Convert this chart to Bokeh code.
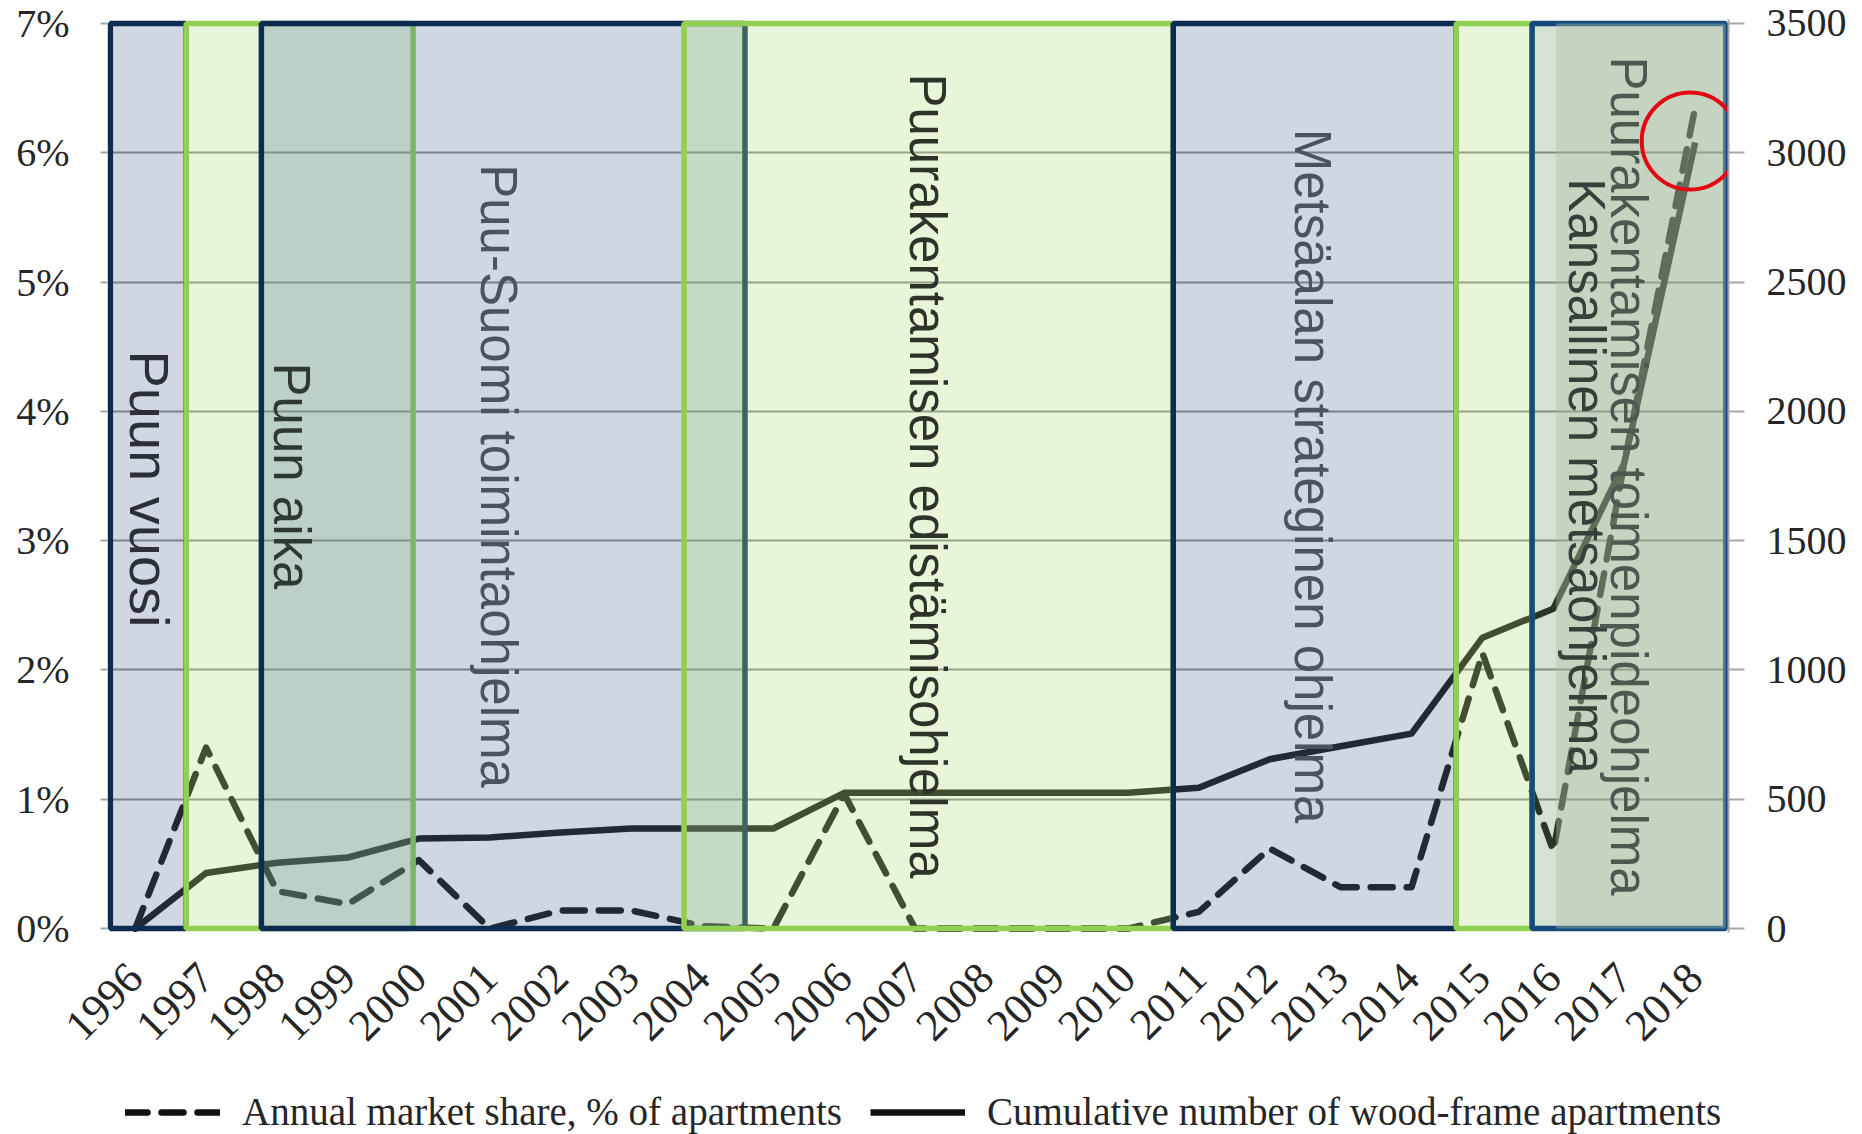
import numpy as np
from bokeh.plotting import figure
from bokeh.layouts import column
from bokeh.models import (Range1d, LinearAxis, FixedTicker, Legend, LegendItem,
                          ColumnDataSource)
from bokeh.embed import file_html
from bokeh.resources import INLINE
from bokeh.core.properties import value

# ---------------- data ----------------
years = list(range(1996, 2019))
market_share = [0.0, 1.40, 0.29, 0.19, 0.53, 0.0, 0.14, 0.14, 0.02, 0.0, 1.04,
                0.0, 0.0, 0.0, 0.0, 0.13, 0.62, 0.32, 0.32, 2.13, 0.60, 3.60, 6.35]
cumulative = [0, 215, 255, 275, 348, 352, 372, 387, 387, 387, 525,
              525, 525, 525, 525, 545, 655, 705, 754, 1125, 1237, 1800, 3040]

left_ticks = [0, 1, 2, 3, 4, 5, 6, 7]
left_labels = ["0%", "1%", "2%", "3%", "4%", "5%", "6%", "7%"]
right_ticks = [0, 500, 1000, 1500, 2000, 2500, 3000, 3500]

# programme periods (shaded boxes), in years
box_start = [1995.65, 1996.72, 1997.78, 2003.74, 2010.64, 2014.63, 2015.70, 2016.04]
box_end = [1996.72, 1999.92, 2004.60, 2010.64, 2014.63, 2015.70, 2018.43, 2018.43]
box_kind = ["navy", "green", "navy", "green", "navy", "green", "navy2", "overlay"]

programme_names = ["Puun vuosi", "Puun aika", "Puu-Suomi toimintaohjelma",
                   "Puurakentamisen edistämisohjelma", "Metsäalan strateginen ohjelma",
                   "Kansallinen metsaohjelma", "Puurakentamisen toimenpideohjelma"]
programme_x = [1996.20, 1998.20, 2001.13, 2007.17, 2012.60, 2016.47, 2017.06]
programme_y = [3.4, 3.5, 3.5, 3.5, 3.5, 3.5, 3.5]

legend_labels = ["Annual market share, % of apartments",
                 "Cumulative number of wood-frame apartments"]

# ---------------- styles ----------------
styles = {
    "navy": dict(fill_color="#4C6D99", fill_alpha=0.27, line_color="#0C2C52", line_width=5.5),
    "green": dict(fill_color="#B0E282", fill_alpha=0.30, line_color="#92D050", line_width=5.5),
    "navy2": dict(fill_color="#649664", fill_alpha=0.28, line_color="#164A7C", line_width=5.5),
    "overlay": dict(fill_color="#AEC0A5", fill_alpha=0.41, line_color=None),
}
text_colors = ["#2B3036", "#2E3A30", "#4A5461", "#2E3329", "#4A5461", "#363F39", "#4D5950"]
text_sizes = ["56px", "51px", "51px", "51px", "51px", "51px", "51px"]
share_style = dict(line_color="#111111", line_width=6.5, line_dash="22 14",
                   line_cap="round", line_join="round")
cum_style = dict(line_color="#111111", line_width=6.5, line_join="round")

serif = "Liberation Serif"

p = figure(width=1862, height=1080,
           x_range=Range1d(1995.61, 2018.47), y_range=Range1d(-0.03, 7.03),
           output_backend="svg", toolbar_location=None,
           min_border_left=107, min_border_top=19, min_border_right=134,
           min_border_bottom=148,
           background_fill_color="white", border_fill_color="white",
           outline_line_color=None)
p.extra_y_ranges = {"cum": Range1d(-0.03 * 500, 7.03 * 500)}

# grid
p.xgrid.visible = False
p.ygrid.ticker = FixedTicker(ticks=left_ticks[1:-1])
p.ygrid.grid_line_color = "#8A8A8A"
p.ygrid.grid_line_width = 2

# lines (under the translucent programme boxes)
p.line(years, market_share, **share_style)
p.line(years, cumulative, y_range_name="cum", **cum_style)

# programme boxes
for s, e, k in zip(box_start, box_end, box_kind):
    p.quad(left=[s], right=[e], bottom=[0], top=[7], **styles[k])

# programme labels
src = ColumnDataSource(dict(x=programme_x, y=programme_y, text=programme_names,
                            color=text_colors, size=text_sizes))
p.text(x="x", y="y", text="text", source=src, angle=-np.pi / 2,
       text_font=value("Liberation Sans"), text_font_size="size",
       text_align="center", text_baseline="middle", text_color="color")

# highlight circle on the last year
p.scatter(x=[years[-1] - 0.07], y=[market_share[-1] - 0.26], marker="circle", size=97,
          fill_color=None, line_color="#E30613", line_width=4)

# axes
xa = p.xaxis[0]
xa.ticker = FixedTicker(ticks=years)
xa.major_label_overrides = {y: str(y) for y in years}
xa.major_label_orientation = np.pi / 4
xa.major_label_text_font = serif
xa.major_label_text_font_size = "44px"
xa.major_label_text_color = "#262626"
xa.major_tick_out = 0
xa.major_tick_in = 0
xa.minor_tick_out = 0
xa.minor_tick_in = 0
xa.axis_line_color = None
xa.major_label_standoff = 38

ya = p.yaxis[0]
ya.ticker = FixedTicker(ticks=left_ticks)
ya.major_label_overrides = {t: l for t, l in zip(left_ticks, left_labels)}
ya.major_label_text_font = serif
ya.major_label_text_font_size = "40px"
ya.major_label_text_color = "#262626"
ya.major_tick_out = 7
ya.major_tick_in = 0
ya.minor_tick_out = 0
ya.minor_tick_in = 0
ya.major_tick_line_color = "#A6A6A6"
ya.major_tick_line_width = 2
ya.axis_line_color = None
ya.major_label_standoff = 31

ra = LinearAxis(y_range_name="cum", ticker=FixedTicker(ticks=right_ticks))
ra.major_label_text_font = serif
ra.major_label_text_font_size = "40px"
ra.major_label_text_color = "#262626"
ra.major_tick_out = 16
ra.major_tick_in = 0
ra.minor_tick_out = 0
ra.minor_tick_in = 0
ra.major_tick_line_color = "#A6A6A6"
ra.major_tick_line_width = 2
ra.axis_line_color = "#A6A6A6"
ra.axis_line_width = 2
ra.major_label_standoff = 22
p.add_layout(ra, "right")

# ---------------- legend strip ----------------
lg = figure(width=1862, height=54, x_range=Range1d(0, 1), y_range=Range1d(0, 1),
            output_backend="svg", toolbar_location=None, min_border=0,
            x_axis_location=None, y_axis_location=None,
            background_fill_color="white", border_fill_color="white",
            outline_line_color=None)
lg.xgrid.visible = False
lg.ygrid.visible = False
k_share = lg.line([np.nan], [np.nan], **share_style)
k_cum = lg.line([np.nan], [np.nan], **cum_style)
legend = Legend(items=[LegendItem(label=legend_labels[0], renderers=[k_share]),
                       LegendItem(label=legend_labels[1], renderers=[k_cum])],
                orientation="horizontal", location=(18, 0),
                glyph_width=95, glyph_height=40, label_standoff=22, spacing=28,
                label_text_font=serif, label_text_font_size="39px",
                label_text_color="#262626", border_line_color=None,
                background_fill_alpha=0, padding=0, margin=0)
lg.add_layout(legend, "center")

layout = column(p, lg, spacing=0)
open("out.html", "w").write(file_html(layout, INLINE))
